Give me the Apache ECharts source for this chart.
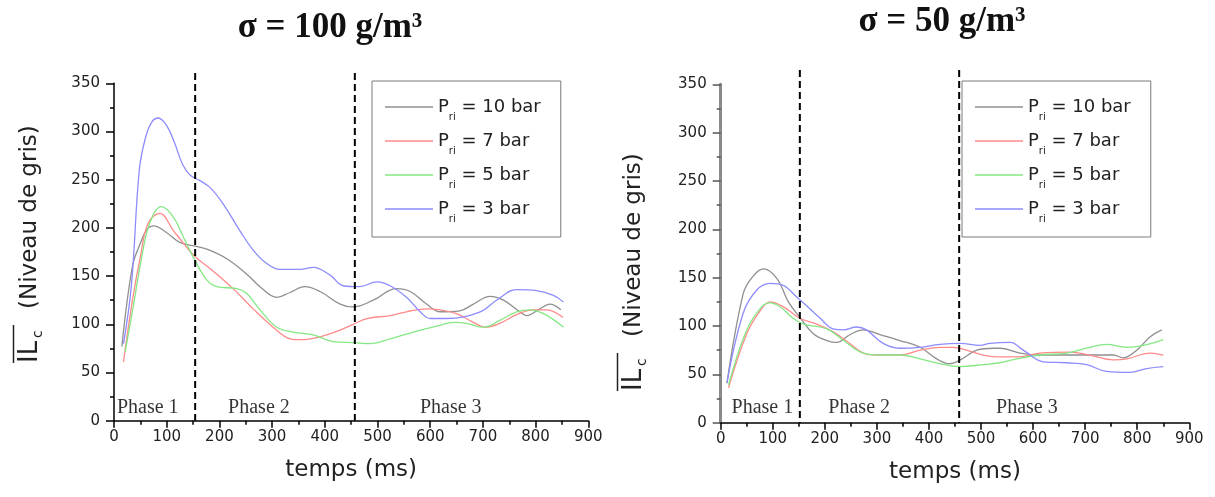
<!DOCTYPE html>
<html><head><meta charset="utf-8">
<script src="https://cdn.jsdelivr.net/npm/echarts@6/dist/echarts.min.js"></script>
<style>html,body{margin:0;padding:0;background:#fff}#c{width:1215px;height:497px}</style>
</head><body><div id="c"></div>
<script>
// ---------- DATA ----------
const seriesNames = ['P_ri = 10 bar', 'P_ri = 7 bar', 'P_ri = 5 bar', 'P_ri = 3 bar'];
const chartTitles = ['σ = 100 g/m³', 'σ = 50 g/m³'];
const xTitle = 'temps (ms)';
const phaseNames = ['Phase 1', 'Phase 2', 'Phase 3'];

// sigma = 100 g/m3
const tA10 = [15, 35, 50, 62, 75, 100, 125, 154, 176, 214, 252, 277, 309, 334, 362, 391, 429, 454, 492, 536, 562, 593, 619, 656, 682, 714, 739, 770, 783, 808, 827, 848];
const vA10 = [77, 160, 184, 198, 202, 195, 185, 181, 178, 168, 152, 139, 128, 133, 139, 134, 121, 118, 125, 137, 134, 121, 113, 114, 121, 129, 125, 113, 109, 116, 121, 115];
const tA7 = [18, 35, 50, 65, 87, 113, 132, 154, 182, 226, 264, 302, 334, 353, 391, 429, 454, 480, 524, 555, 593, 619, 650, 682, 704, 732, 764, 796, 821, 852];
const vA7 = [61, 125, 170, 205, 215, 197, 184, 170, 158, 137, 116, 97, 85, 84, 87, 94, 100, 106, 109, 113, 116, 115, 111, 102, 97, 101, 110, 115, 115, 107];
const tA5 = [21, 37, 52, 68, 90, 113, 132, 154, 176, 195, 233, 252, 277, 309, 340, 378, 416, 454, 486, 524, 568, 619, 644, 669, 701, 732, 764, 789, 815, 853];
const vA5 = [71, 120, 168, 205, 222, 211, 190, 166, 146, 139, 137, 132, 115, 97, 92, 89, 82, 81, 80, 85, 92, 99, 102, 101, 97, 104, 113, 115, 111, 97];
const tA3 = [18, 33, 48, 60, 72, 84, 100, 115, 130, 144, 163, 182, 207, 239, 264, 290, 315, 353, 378, 410, 435, 466, 499, 524, 555, 581, 600, 631, 695, 726, 764, 802, 834, 853];
const vA3 = [80, 140, 260, 294, 310, 314, 306, 288, 266, 255, 249, 242, 225, 197, 177, 163, 157, 157, 159, 151, 140, 139, 144, 140, 128, 113, 106, 106, 113, 125, 136, 135, 130, 123];

// sigma = 50 g/m3
const tB10 = [12, 43, 60, 82, 108, 130, 152, 178, 204, 223, 248, 274, 306, 344, 383, 415, 440, 460, 492, 524, 536, 575, 613, 665, 709, 754, 773, 799, 825, 847];
const vB10 = [41, 133, 150, 159, 149, 125, 109, 92, 85, 83, 91, 96, 91, 85, 78, 66, 61, 65, 75, 77, 77, 72, 70, 70, 70, 70, 67, 75, 89, 96];
const tB7 = [15, 50, 76, 95, 120, 152, 184, 216, 248, 274, 300, 344, 383, 421, 447, 472, 504, 536, 569, 613, 671, 709, 754, 780, 825, 850];
const vB7 = [36, 92, 116, 125, 120, 108, 102, 94, 82, 72, 70, 70, 75, 78, 78, 75, 70, 68, 68, 72, 73, 70, 65, 66, 72, 70];
const tB5 = [15, 50, 79, 95, 114, 139, 159, 204, 236, 274, 306, 344, 383, 421, 460, 504, 536, 569, 613, 665, 709, 741, 780, 812, 850];
const vB5 = [39, 96, 120, 124, 120, 108, 102, 97, 85, 72, 70, 70, 66, 61, 58, 60, 62, 66, 70, 72, 78, 81, 78, 80, 86];
const tB3 = [12, 43, 69, 95, 120, 146, 165, 191, 216, 236, 261, 280, 312, 344, 383, 421, 460, 498, 517, 556, 581, 620, 665, 703, 741, 786, 818, 850];
const vB3 = [41, 113, 137, 144, 142, 130, 121, 108, 97, 96, 99, 96, 82, 77, 78, 81, 82, 80, 82, 83, 75, 63, 62, 60, 53, 52, 56, 58];

const phaseBoundsA = [154, 457];
const phaseBoundsB = [152, 458];
const phaseLabelPosA = [[64, 13], [275, 13], [639, 13]];
const phaseLabelPosB = [[80, 15], [266, 15], [588, 15]];

const xTicks = { min: 0, max: 900, interval: 100 };
const yTicks = { min: 0, max: 350, interval: 50 };

// ---------- CHART ----------
const colors = ['#8f8f8f', '#ff8a8a', '#84e884', '#8c8cff'];
const zip = (t, v) => t.map((x, i) => [x, v[i]]);
const dataA = [zip(tA10, vA10), zip(tA7, vA7), zip(tA5, vA5), zip(tA3, vA3)];
const dataB = [zip(tB10, vB10), zip(tB7, vB7), zip(tB5, vB5), zip(tB3, vB3)];

const sans = 'DejaVu Sans';
const serif = 'Liberation Serif';

function xAxis(gi) {
  return {
    gridIndex: gi, type: 'value', min: xTicks.min, max: xTicks.max, interval: xTicks.interval,
    axisLine: { show: true, onZero: false, lineStyle: { color: '#000', width: 1.5 } },
    axisTick: { show: true, length: 7, lineStyle: { color: '#000', width: 1.5 } },
    minorTick: { show: true, splitNumber: 2, length: 4, lineStyle: { color: '#000', width: 1.5 } },
    splitLine: { show: false },
    axisLabel: { fontSize: 15, fontFamily: sans, color: '#222', margin: 9 },
    name: xTitle, nameLocation: 'middle', nameGap: 38,
    nameTextStyle: { fontSize: 23, fontFamily: sans, color: '#222' }
  };
}
function yAxis(gi, lineColor, lineWidth, tickColor) {
  return {
    gridIndex: gi, type: 'value', min: yTicks.min, max: yTicks.max, interval: yTicks.interval,
    axisLine: { show: true, lineStyle: { color: lineColor, width: lineWidth } },
    axisTick: { show: true, length: 8, lineStyle: { color: tickColor, width: 1.5 } },
    minorTick: { show: true, splitNumber: 2, length: 4, lineStyle: { color: tickColor, width: 1.5 } },
    splitLine: { show: false },
    axisLabel: { fontSize: 15, fontFamily: sans, color: '#222', margin: 14 }
  };
}

const series = [];
[dataA, dataB].forEach((d, gi) => {
  d.forEach((pts, i) => {
    series.push({
      type: 'line', name: seriesNames[i], xAxisIndex: gi, yAxisIndex: gi,
      data: pts, symbol: 'none', showSymbol: false, smooth: 0.4,
      lineStyle: { color: colors[i], width: 1.3 }, itemStyle: { color: colors[i] },
      z: 3
    });
  });
});
[phaseLabelPosA, phaseLabelPosB].forEach((pos, gi) => {
  series.push({
    type: 'scatter', name: 'phases' + gi, xAxisIndex: gi, yAxisIndex: gi,
    symbolSize: 0, silent: true,
    data: pos.map((p, i) => [p[0], p[1], phaseNames[i]]),
    label: { show: true, position: 'inside', formatter: p => p.data[2], fontFamily: serif, fontSize: 20, color: '#000' }
  });
});

function legend(left) {
  return {
    data: seriesNames.map(n => ({ name: n, icon: 'rect' })), left: left, top: 81, orient: 'vertical',
    borderColor: '#7a7a7a', borderWidth: 1, padding: [17, 20, 13, 13],
    itemWidth: 48, itemHeight: 1.5, itemGap: 10, selectedMode: false,
    formatter: name => '{p|P}{s|ri}{t|' + name.replace('P_ri', '') + '}',
    textStyle: {
      fontFamily: sans, fontSize: 18, color: '#222',
      rich: {
        p: { fontFamily: sans, fontSize: 18, lineHeight: 30, color: '#222' },
        s: { fontFamily: sans, fontSize: 10, verticalAlign: 'bottom', color: '#222' },
        t: { fontFamily: sans, fontSize: 18, lineHeight: 30, color: '#222' }
      }
    }
  };
}

const chart = echarts.init(document.getElementById('c'), null, { renderer: 'canvas' });
const option = {
  animation: false,
  backgroundColor: '#fff',
  grid: [
    { left: 114, top: 83.3, width: 474.3, height: 337.4 },
    { left: 720.7, top: 84.3, width: 468.6, height: 338.4 }
  ],
  xAxis: [xAxis(0), xAxis(1)],
  yAxis: [yAxis(0, '#000', 1.5, '#000'), yAxis(1, '#8a8a8a', 3, '#555')],
  legend: [legend(372), legend(962)],
  series: series
};
chart.setOption(option);

function yTitle(x, y) {
  return [{
    type: 'text', x: x, y: y, rotation: Math.PI / 2,
    style: {
      text: '{m|IL}{s|c}{g|}{n|(Niveau de gris)}',
      align: 'left', verticalAlign: 'middle', fill: '#222',
      fontFamily: sans, fontSize: 23,
      rich: {
        m: { fontFamily: sans, fontSize: 26, width: 25, lineHeight: 30, fill: '#222' },
        s: { fontFamily: sans, fontSize: 14, width: 9, verticalAlign: 'bottom', fill: '#222' },
        g: { width: 20 },
        n: { fontFamily: sans, fontSize: 23, lineHeight: 30, fill: '#222' }
      }
    }
  }, {
    type: 'line', shape: { x1: x - 16.5, y1: y - 38, x2: x - 16.5, y2: y },
    style: { stroke: '#222', lineWidth: 1.5 }
  }];
}

const graphics = [];
graphics.push({ type: 'text', x: 330, y: 28, style: { text: chartTitles[0], align: 'center', verticalAlign: 'middle', fontFamily: serif, fontSize: 35, fontWeight: 'bold', fill: '#111' } });
graphics.push({ type: 'text', x: 942, y: 22, style: { text: chartTitles[1], align: 'center', verticalAlign: 'middle', fontFamily: serif, fontSize: 35, fontWeight: 'bold', fill: '#111' } });
graphics.push(...yTitle(30, 363));
graphics.push(...yTitle(634, 391));

[[phaseBoundsA, 0, 73], [phaseBoundsB, 1, 70]].forEach(([bounds, gi, topY]) => {
  bounds.forEach(t => {
    const p0 = chart.convertToPixel({ gridIndex: gi }, [t, 0]);
    graphics.push({
      type: 'line', z: 10,
      shape: { x1: p0[0], y1: topY, x2: p0[0], y2: p0[1] },
      style: { stroke: '#000', lineWidth: 2, lineDash: [7, 4] }
    });
  });
});
chart.setOption({ graphic: graphics });
</script></body></html>
